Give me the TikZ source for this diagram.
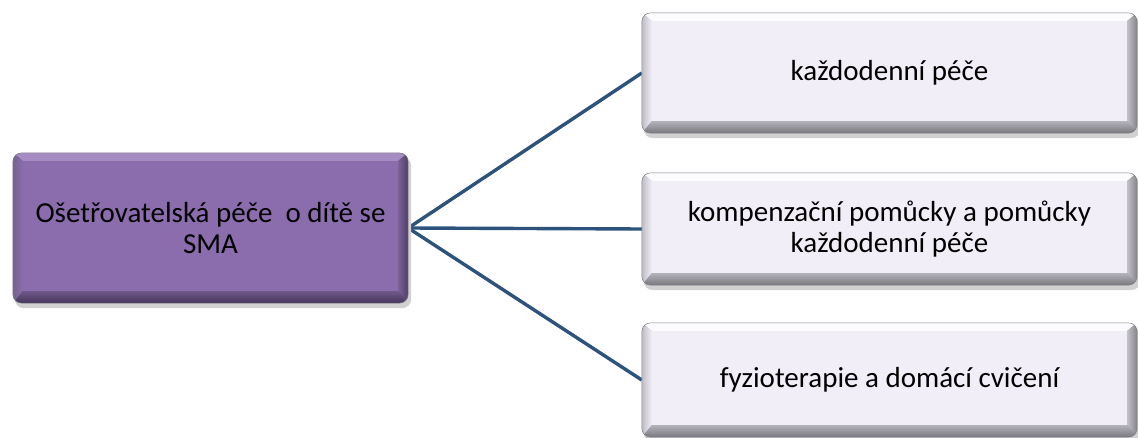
\documentclass[tikz,border=0pt]{standalone}
\usepackage{fontspec}
\setmainfont{Carlito}
\usetikzlibrary{calc,backgrounds}

% face / bevel colours
\definecolor{rootface}{HTML}{8B6DAE}
\definecolor{roottop}{HTML}{A58DC4}
\definecolor{rootleftout}{HTML}{76608F}
\definecolor{rootrightin}{HTML}{7A6198}
\definecolor{rootrightout}{HTML}{4F3E66}
\definecolor{rootbottomin}{HTML}{6F5889}
\definecolor{rootbottomout}{HTML}{45365A}
\definecolor{leafface}{HTML}{F2EEF8}
\definecolor{leaftop}{HTML}{FCFBFE}
\definecolor{leafleftout}{HTML}{BEBCC3}
\definecolor{leafrightin}{HTML}{C2C0C7}
\definecolor{leafrightout}{HTML}{86848B}
\definecolor{leafbottomin}{HTML}{B4B2B9}
\definecolor{leafbottomout}{HTML}{7A787F}
\definecolor{linkblue}{HTML}{2D537D}
\definecolor{rimgray}{HTML}{807E85}

\tikzset{
  boxtext/.style={align=center, inner sep=0pt, text=black,
    font=\fontsize{29}{31}\selectfont},
  rootbox/.style={boxtext, minimum width=395pt, minimum height=150pt},
  leafbox/.style={boxtext, minimum width=495pt, minimum height=120pt},
  link/.style={draw=linkblue, line width=3.4pt},
}

% bevelled card behind a node:
% #1 node, #2 face, #3 top, #4 left outer, #5/#6 right in/out, #7/#8 bottom in/out
\newcommand\drawbevel[8]{%
  \fill[black!18, rounded corners=9pt]
    ($(#1.north west)+(2,4)$) rectangle ($(#1.south east)+(3,5)$);
  \begin{scope}
    \clip[rounded corners=9pt] (#1.north west) rectangle (#1.south east);
    \fill[#6] (#1.north west) rectangle (#1.south east);
    \fill[#3] (#1.north west) -- (#1.north east) -- ($(#1.north east)+(-10,8)$)
      -- ($(#1.north west)+(10,8)$) -- cycle;
    \shade[left color=#4, right color=#2] (#1.north west) -- ($(#1.north west)+(10,8)$)
      -- ($(#1.south west)+(10,-12)$) -- (#1.south west) -- cycle;
    \shade[left color=#5, right color=#6] (#1.north east) -- ($(#1.north east)+(-10,8)$)
      -- ($(#1.south east)+(-10,-12)$) -- (#1.south east) -- cycle;
    \shade[top color=#7, bottom color=#8] (#1.south west) -- ($(#1.south west)+(10,-12)$)
      -- ($(#1.south east)+(-10,-12)$) -- (#1.south east) -- cycle;
    \fill[#2] ($(#1.north west)+(10,8)$) rectangle ($(#1.south east)+(-10,-12)$);
  \end{scope}
  \draw[rimgray, line width=0.5pt, rounded corners=9pt]
    (#1.north west) rectangle (#1.south east);
}

\begin{document}
\begin{tikzpicture}[x=1pt, y=-1pt]
  \useasboundingbox (0,0) rectangle (1138,438);

  % central topic
  \node[rootbox] (root) at (210.5,228) {Ošetřovatelská péče\ \ o dítě se\\SMA};

  % branches
  \node[leafbox] (a) at (889.5,73) {každodenní péče};
  \node[leafbox, minimum height=112pt] (b) at (889.5,229)
    {kompenzační pomůcky a pomůcky\\každodenní péče};
  \node[leafbox, minimum height=114pt] (c) at (889.5,380)
    {fyzioterapie a domácí cvičení};

  \begin{scope}[on background layer]
    \draw[link] (root.east) -- (a.west);
    \draw[link] (root.east) -- (b.west);
    \draw[link] (root.east) -- (c.west);
    \drawbevel{root}{rootface}{roottop}{rootleftout}{rootrightin}{rootrightout}{rootbottomin}{rootbottomout}
    \foreach \n in {a,b,c}{
      \drawbevel{\n}{leafface}{leaftop}{leafleftout}{leafrightin}{leafrightout}{leafbottomin}{leafbottomout}
    }
  \end{scope}
\end{tikzpicture}
\end{document}
